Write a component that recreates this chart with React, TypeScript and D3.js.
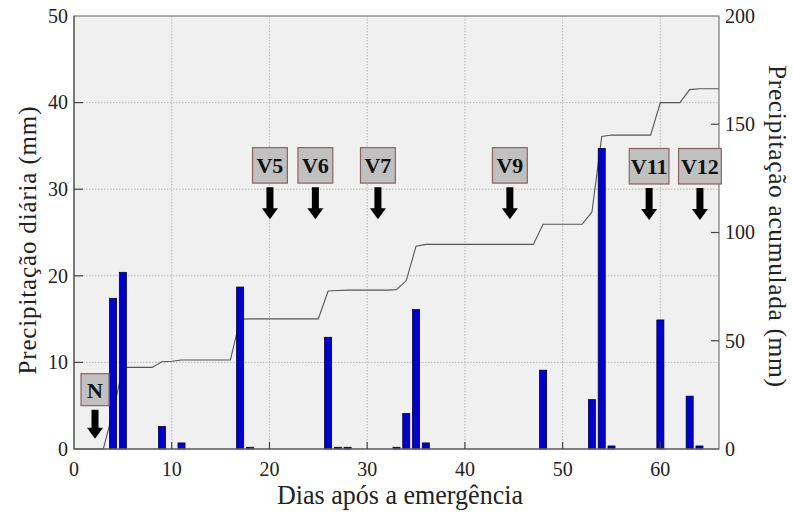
import React from 'react';
import * as d3 from 'd3';

// Daily precipitation (mm) by day after emergence
const barDays = [4, 5, 9, 11, 17, 18, 26, 27, 28, 33, 34, 35, 36, 48, 53, 54, 55, 60, 63, 64];
const barValues = [17.4, 20.4, 2.6, 0.7, 18.7, 0.2, 12.9, 0.2, 0.2, 0.2, 4.1, 16.1, 0.7, 9.1, 5.7, 34.7, 0.35, 14.9, 6.1, 0.35];

// Accumulated precipitation (mm) line
const cumDays = [0, 3, 4, 5, 8, 9, 10, 11, 16, 17, 18, 25, 26, 27, 28, 32, 33, 34, 35, 36, 47, 48, 52, 53, 54, 55, 59, 60, 62, 63, 64, 66];
const cumValues = [0, 0, 17.4, 37.7, 37.7, 40.3, 40.5, 41.1, 41.1, 59.9, 60.1, 60.1, 73.0, 73.2, 73.4, 73.4, 73.6, 77.8, 93.7, 94.5, 94.5, 103.8, 103.8, 109.5, 144.4, 145.0, 145.0, 160.0, 160.0, 166.0, 166.4, 166.4];

// Ticks
const xTicks = [0, 10, 20, 30, 40, 50, 60];
const yLeftTicks = [0, 10, 20, 30, 40, 50];
const yRightTicks = [0, 50, 100, 150, 200];

// Phenological stage annotations
const stageNames = ['N', 'V5', 'V6', 'V7', 'V9', 'V11', 'V12'];
const stageDays = [2.15, 20.05, 24.7, 31.1, 44.6, 58.85, 64.05];
const stageLevels = [8.7, 34.8, 34.8, 34.8, 34.8, 34.7, 34.7];

const W = 793;
const H = 515;
const M = { left: 74, right: 719, top: 16, bottom: 449 };
const SERIF = 'Liberation Serif';

function charW(c: string) {
  if (c === 'V' || c === 'N') return 0.72;
  if (c === '1') return 0.36;
  return 0.5;
}

export default function App() {
  const x = d3.scaleLinear().domain([0, 66]).range([M.left, M.right]);
  const yL = d3.scaleLinear().domain([0, 50]).range([M.bottom, M.top]);
  const yR = d3.scaleLinear().domain([0, 200]).range([M.bottom, M.top]);
  const bw = x(0.72) - x(0);

  const line = d3
    .line<number>()
    .x((_, i) => x(cumDays[i]))
    .y((d) => yR(d));
  const linePath = line(cumValues) || '';

  const fs = 22;
  const tStyle = { fontFamily: SERIF };

  return (
    <svg
      width={W}
      height={H}
      style={{ position: 'absolute', left: 0, top: 0, background: '#fff', fontFamily: SERIF }}
    >
      {/* plot background */}
      <rect x={M.left} y={M.top} width={M.right - M.left} height={M.bottom - M.top} fill="#f0f0f0" />

      {/* grid */}
      {xTicks.filter((t) => t > 0).map((t) => (
        <line key={'gx' + t} x1={x(t)} x2={x(t)} y1={M.top} y2={M.bottom} stroke="#b8b8b8" strokeWidth={1} strokeDasharray="1.5,1.5" />
      ))}
      {yLeftTicks.filter((t) => t > 0 && t < 50).map((t) => (
        <line key={'gy' + t} x1={M.left} x2={M.right} y1={yL(t)} y2={yL(t)} stroke="#b8b8b8" strokeWidth={1} strokeDasharray="1.5,1.5" />
      ))}

      {/* cumulative line */}
      <path d={linePath} fill="none" stroke="#555" strokeWidth={1.1} />

      {/* bars */}
      {barDays.map((d, i) => (
        <rect
          key={'b' + d}
          x={x(d) - bw / 2}
          y={yL(barValues[i])}
          width={bw}
          height={yL(0) - yL(barValues[i])}
          fill="#0000cc"
          stroke="#00003a"
          strokeWidth={0.8}
        />
      ))}

      {/* frame */}
      <rect x={M.left} y={M.top} width={M.right - M.left} height={M.bottom - M.top} fill="none" stroke="#7a7a7a" strokeWidth={1.2} />
      <line x1={M.left} x2={M.left} y1={M.top} y2={M.bottom} stroke="#555" strokeWidth={1.2} />
      <line x1={M.left} x2={M.right} y1={M.bottom} y2={M.bottom} stroke="#555" strokeWidth={1.2} />

      {/* inward ticks */}
      {yLeftTicks.filter((t) => t > 0 && t < 50).map((t) => (
        <line key={'tl' + t} x1={M.left} x2={M.left + 9} y1={yL(t)} y2={yL(t)} stroke="#444" strokeWidth={1.2} />
      ))}
      {yRightTicks.filter((t) => t > 0 && t < 200).map((t) => (
        <line key={'tr' + t} x1={M.right - 8} x2={M.right} y1={yR(t)} y2={yR(t)} stroke="#444" strokeWidth={1.2} />
      ))}
      {xTicks.filter((t) => t > 0).map((t) => (
        <line key={'tx' + t} x1={x(t)} x2={x(t)} y1={M.bottom - 7} y2={M.bottom} stroke="#444" strokeWidth={1.2} />
      ))}

      {/* tick labels */}
      {yLeftTicks.map((t) => (
        <text key={'ll' + t} style={tStyle} x={68} y={yL(t)} dy="0.34em" textAnchor="end" fontSize={20} fill="#222">
          {t}
        </text>
      ))}
      {yRightTicks.map((t) => (
        <text key={'rl' + t} style={tStyle} x={725} y={yR(t)} dy="0.34em" textAnchor="start" fontSize={20} fill="#222">
          {t}
        </text>
      ))}
      {xTicks.map((t) => (
        <text key={'xl' + t} style={tStyle} x={x(t)} y={476} textAnchor="middle" fontSize={20} fill="#222">
          {t}
        </text>
      ))}

      {/* axis titles */}
      <text style={tStyle} x={400} y={504} textAnchor="middle" fontSize={28} fill="#222" textLength={246} lengthAdjust="spacingAndGlyphs">
        Dias após a emergência
      </text>
      <text style={tStyle} transform={`translate(36,${(M.top + M.bottom) / 2 + 8}) rotate(-90)`} textAnchor="middle" fontSize={25} fill="#222" textLength={268} lengthAdjust="spacing">
        Precipitação diária (mm)
      </text>
      <text style={tStyle} transform={`translate(769,226) rotate(90)`} textAnchor="middle" fontSize={25.5} fill="#222" textLength={322} lengthAdjust="spacing">
        Precipitação acumulada (mm)
      </text>

      {/* stage annotations */}
      {stageNames.map((name, i) => {
        const cx = x(stageDays[i]);
        const top = yL(stageLevels[i]);
        const tw = name.split('').reduce((s, c) => s + charW(c), 0) * fs;
        const bwid = Math.max(28, tw + 8);
        const bh = name === 'N' ? 32 : 35.5;
        const ay = top + bh + 4;
        const shaftW = 7;
        const headW = 16;
        const shaftL = name === 'N' ? 18 : 21;
        const headL = 11;
        const pts = [
          [cx - shaftW / 2, ay],
          [cx + shaftW / 2, ay],
          [cx + shaftW / 2, ay + shaftL],
          [cx + headW / 2, ay + shaftL],
          [cx, ay + shaftL + headL],
          [cx - headW / 2, ay + shaftL],
          [cx - shaftW / 2, ay + shaftL],
        ]
          .map((p) => p.join(','))
          .join(' ');
        return (
          <g key={'s' + name}>
            <rect x={cx - bwid / 2} y={top} width={bwid} height={bh} fill="#c0c0c0" stroke="#8a6464" strokeWidth={1.2} />
            <text style={tStyle} x={cx} y={top + bh / 2 + 8} textAnchor="middle" fontSize={fs} fontWeight="bold" fill="#111">
              {name}
            </text>
            <polygon points={pts} fill="#000" />
          </g>
        );
      })}
    </svg>
  );
}
